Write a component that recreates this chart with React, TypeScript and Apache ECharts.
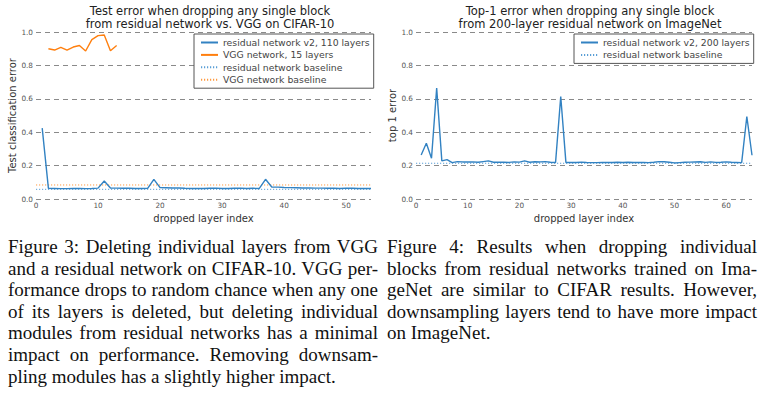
import React, { useEffect, useRef } from "react";
import * as echarts from "echarts";

// ---- Figure 3 (CIFAR-10) data ----
const cifarResidual = [
  0.424, 0.064, 0.063, 0.062, 0.062, 0.063, 0.063, 0.062, 0.063, 0.065,
  0.108, 0.066, 0.065, 0.064, 0.064, 0.063, 0.063, 0.064, 0.118, 0.068,
  0.067, 0.066, 0.066, 0.064, 0.063, 0.063, 0.063, 0.064, 0.065, 0.063,
  0.063, 0.064, 0.065, 0.063, 0.064, 0.063, 0.118, 0.072, 0.071, 0.069,
  0.068, 0.067, 0.066, 0.066, 0.065, 0.065, 0.064, 0.064, 0.063, 0.065,
  0.064, 0.063, 0.063, 0.063,
];
const cifarResidualStart = 1;
const cifarVgg = [0.9, 0.892, 0.908, 0.892, 0.91, 0.919, 0.886, 0.954, 0.978, 0.982, 0.888, 0.919];
const cifarVggStart = 2;
const cifarResidualBaseline = 0.058;
const cifarVggBaseline = 0.084;
const cifarXMax = 54;

// ---- Figure 4 (ImageNet) data ----
const imagenetResidual = [
  0.264, 0.334, 0.244, 0.664, 0.228, 0.236, 0.218, 0.224, 0.222, 0.222,
  0.222, 0.22, 0.224, 0.228, 0.22, 0.22, 0.22, 0.219, 0.222, 0.221,
  0.228, 0.22, 0.223, 0.222, 0.224, 0.22, 0.219, 0.614, 0.219, 0.219,
  0.219, 0.221, 0.219, 0.218, 0.218, 0.219, 0.219, 0.219, 0.22, 0.219,
  0.22, 0.219, 0.219, 0.219, 0.218, 0.22, 0.224, 0.223, 0.22, 0.216,
  0.218, 0.22, 0.221, 0.222, 0.223, 0.219, 0.222, 0.219, 0.22, 0.222,
  0.22, 0.219, 0.218, 0.494, 0.262,
];
const imagenetResidualStart = 1;
const imagenetBaseline = 0.214;
const imagenetXMax = 65;

// ---- texts ----
const titleLeft = "Test error when dropping any single block\nfrom residual network vs. VGG on CIFAR-10";
const titleRight = "Top-1 error when dropping any single block\nfrom 200-layer residual network on ImageNet";
const yNameLeft = "Test classification error";
const yNameRight = "top 1 error";
const xName = "dropped layer index";
const namesLeft = [
  "residual network v2, 110 layers",
  "VGG network, 15 layers",
  "residual network baseline",
  "VGG network baseline",
];
const namesRight = ["residual network v2, 200 layers", "residual network baseline"];

const captionLeft = [
  "Figure 3:  Deleting individual layers from VGG",
  "and a residual network on CIFAR-10. VGG per-",
  "formance drops to random chance when any one",
  "of its layers is deleted, but deleting individual",
  "modules from residual networks has a minimal",
  "impact on performance.  Removing downsam-",
  "pling modules has a slightly higher impact.",
];
const captionRight = [
  "Figure 4:    Results when dropping individual",
  "blocks from residual networks trained on Ima-",
  "geNet are similar to CIFAR results.  However,",
  "downsampling layers tend to have more impact",
  "on ImageNet.",
];

const BLUE = "#3282c2";
const ORANGE = "#ff7f0e";
const BLUE_DOT = "#5a9fd6";
const ORANGE_DOT = "#ff9a40";
const GRID = "#8a8a8a";
const FONT = "DejaVu Sans";

const toPts = (vals: number[], start: number) => vals.map((v, i) => [i + start, v]);

function Caption({ lines, left }: { lines: string[]; left: number }) {
  return (
    <div
      style={{
        position: "absolute",
        left,
        top: 236,
        width: 370,
        fontFamily: "'Liberation Serif', 'Times New Roman', serif",
        fontSize: 19,
        lineHeight: "21.6px",
        color: "#111",
      }}
    >
      {lines.map((l, i) => (
        <div
          key={i}
          style={{
            textAlign: i === lines.length - 1 ? "left" : "justify",
            textAlignLast: i === lines.length - 1 ? "left" : "justify",
            whiteSpace: "nowrap",
            height: 21.6,
          }}
        >
          {l}
        </div>
      ))}
    </div>
  );
}

export default function App() {
  const ref = useRef<HTMLDivElement>(null);
  useEffect(() => {
    if (!ref.current) return;
    const chart = echarts.init(ref.current, undefined, { renderer: "svg" });
    const mkX = (gridIndex: number, max: number) => ({
      type: "value" as const,
      gridIndex,
      min: 0,
      max,
      interval: 10,
      name: xName,
      nameLocation: "middle" as const,
      nameGap: 14,
      nameTextStyle: { fontFamily: FONT, fontSize: 10, color: "#333" },
      axisLine: { show: false },
      axisTick: { show: false },
      splitLine: { show: false },
      axisLabel: { fontFamily: FONT, fontSize: 7.3, color: "#555", margin: 3, showMaxLabel: false },
    });
    const mkY = (gridIndex: number, name: string, gap: number) => ({
      type: "value" as const,
      gridIndex,
      min: 0,
      max: 1,
      interval: 0.2,
      name,
      nameLocation: "middle" as const,
      nameGap: gap,
      nameTextStyle: { fontFamily: FONT, fontSize: 10, color: "#333" },
      axisLine: { show: false },
      axisTick: { show: false },
      splitLine: { show: true, lineStyle: { color: GRID, width: 1, type: [5, 4] } },
      axisLabel: {
        fontFamily: FONT,
        fontSize: 7.3,
        color: "#555",
        margin: 3,
        formatter: (v: number) => v.toFixed(1),
      },
    });
    const lineSeries = (
      name: string,
      xi: number,
      data: number[][],
      color: string,
      dotted: boolean,
      width: number
    ) => ({
      type: "line" as const,
      name,
      xAxisIndex: xi,
      yAxisIndex: xi,
      data,
      symbol: "none",
      showSymbol: false,
      lineStyle: { color, width, type: dotted ? [1.2, 1.8] : "solid" },
      itemStyle: { color },
      z: dotted ? 2 : 3,
    });
    const legendBase = {
      orient: "vertical" as const,
      backgroundColor: "#fff",
      borderColor: "#555",
      borderWidth: 1,
      borderRadius: 0,
      padding: [4, 4, 4, 6],
      itemWidth: 17,
      itemHeight: 10,
      itemGap: 3.4,
      selectedMode: false,
      itemStyle: { opacity: 0 },
      textStyle: { fontFamily: FONT, fontSize: 9.3, color: "#444" },
    };
    chart.setOption({
      animation: false,
      backgroundColor: "#fff",
      title: [
        {
          text: titleLeft,
          left: 210,
          top: 4,
          textAlign: "center",
          padding: 0,
          textStyle: { fontFamily: FONT, fontSize: 11.5, fontWeight: "normal", color: "#222", lineHeight: 13 },
        },
        {
          text: titleRight,
          left: 590,
          top: 4,
          textAlign: "center",
          padding: 0,
          textStyle: { fontFamily: FONT, fontSize: 11.5, fontWeight: "normal", color: "#222", lineHeight: 13 },
        },
      ],
      legend: [
        { ...legendBase, left: 194, top: 34, data: namesLeft },
        { ...legendBase, left: 574, top: 34, data: namesRight },
      ],
      grid: [
        { left: 36, top: 32, width: 335, height: 167 },
        { left: 416, top: 32, width: 336, height: 167 },
      ],
      xAxis: [mkX(0, cifarXMax), mkX(1, imagenetXMax)],
      yAxis: [mkY(0, yNameLeft, 19), mkY(1, yNameRight, 18)],
      series: [
        lineSeries(namesLeft[2], 0, [[0, cifarResidualBaseline], [cifarXMax, cifarResidualBaseline]], BLUE_DOT, true, 1),
        lineSeries(namesLeft[3], 0, [[0, cifarVggBaseline], [cifarXMax, cifarVggBaseline]], ORANGE_DOT, true, 1),
        lineSeries(namesLeft[0], 0, toPts(cifarResidual, cifarResidualStart), BLUE, false, 1.4),
        lineSeries(namesLeft[1], 0, toPts(cifarVgg, cifarVggStart), ORANGE, false, 1.4),
        lineSeries(namesRight[1], 1, [[0, imagenetBaseline], [imagenetXMax, imagenetBaseline]], BLUE_DOT, true, 1),
        lineSeries(namesRight[0], 1, toPts(imagenetResidual, imagenetResidualStart), BLUE, false, 1.4),
      ],
    });
    return () => chart.dispose();
  }, []);

  return (
    <div style={{ position: "absolute", left: 0, top: 0, width: 763, height: 394, background: "#fff", overflow: "hidden" }}>
      <div ref={ref} style={{ position: "absolute", left: 0, top: 0, width: 763, height: 232 }} />
      <Caption lines={captionLeft} left={8} />
      <Caption lines={captionRight} left={387} />
    </div>
  );
}
